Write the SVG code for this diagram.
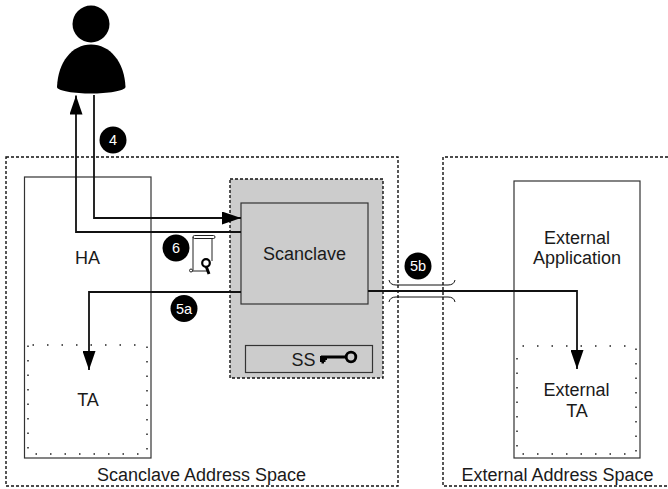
<svg xmlns="http://www.w3.org/2000/svg" width="668" height="489" viewBox="0 0 668 489">
<defs>
<style>
text{font-family:"Liberation Sans",Arial,sans-serif;font-size:18px;fill:#1a1a1a;text-anchor:middle}
.box{fill:none;stroke:#333;stroke-width:1.2}
.space{fill:none;stroke:#111;stroke-width:1.4;stroke-dasharray:3 2}
.dots{fill:none;stroke:#222;stroke-width:1.5;stroke-dasharray:1.5 13}
.wire{fill:none;stroke:#111;stroke-width:1.8}
.brk{fill:none;stroke:#111;stroke-width:1}
.badge circle{fill:#000}
.badge text{fill:#fff;font-size:14.5px}
</style>
<marker id="arr" markerUnits="userSpaceOnUse" markerWidth="19" markerHeight="13" refX="19" refY="6.5" viewBox="0 0 19 13" orient="auto"><path d="M0 0L19 6.5L0 13Z" fill="#000"/></marker>
</defs>
<rect width="668" height="489" fill="#fff"/>
<g id="scanclave-space"><rect class="space" x="6" y="157" width="392" height="329"/><text x="201.500" y="481">Scanclave Address Space</text></g>
<g id="external-space"><path class="space" d="M668 157H443V486H668"/><text x="557.500" y="481">External Address Space</text></g>
<g id="ha"><rect class="box" x="24.500" y="177" width="126.500" height="281"/><text x="87.500" y="264">HA</text></g>
<g id="ta"><rect class="dots" stroke-dashoffset="-4.500" x="28" y="345" width="119" height="109"/><text x="88" y="406">TA</text></g>
<g id="enclave"><rect x="230" y="179" width="153" height="199" fill="#ccc" stroke="#111" stroke-width="1.400" stroke-dasharray="3 2"/></g>
<g id="scanclave"><rect x="241" y="203" width="127" height="101" fill="#ccc" stroke="#333" stroke-width="1.200"/><text x="304.500" y="260">Scanclave</text></g>
<g id="ss"><rect x="245.500" y="345.500" width="127" height="27" fill="#ccc" stroke="#333" stroke-width="1.200"/><text x="303.500" y="366">SS</text>
<path d="M321 357H346" stroke="#000" stroke-width="3"/><path d="M320 356h7v4h-1.500v2h-1.500v1.500h-2.500v-1.500h-1.500Z" fill="#000"/><circle cx="351" cy="357" r="4.800" fill="none" stroke="#000" stroke-width="2.800"/></g>
<g id="ext-app"><rect class="box" x="514" y="181" width="126" height="277"/><text x="577" y="244">External</text><text x="577" y="264">Application</text></g>
<g id="ext-ta"><rect class="dots" stroke-dashoffset="-5.500" x="517" y="346" width="119" height="108"/><text x="576.500" y="396">External</text><text x="577" y="417">TA</text></g>
<g id="user"><circle cx="91" cy="24" r="18.500" fill="#000"/><path d="M57 87C58 62 72 44.500 91 44.500S124.500 62 125.500 87C125 91 107 93.500 91 93.500S57 91 57 87Z" fill="#000"/></g>
<g id="certificate" fill="none" stroke="#222" stroke-width="1"><path d="M193 237V270.500M212 238V261"/><rect x="193" y="235.500" width="22" height="3" rx="1.500"/><circle cx="191" cy="270.500" r="1.500" fill="#fff"/><path d="M192 271H207"/><path d="M206 266L209 274" stroke="#000" stroke-width="3"/><circle cx="206" cy="263" r="3.800" stroke="#000" stroke-width="2.200" fill="#fff"/></g>
<g id="connectors">
<path class="wire" d="M241 232H76V95.500" marker-end="url(#arr)"/>
<path class="wire" d="M94 95V218H241" marker-end="url(#arr)"/>
<path class="wire" d="M241 292H89V370" marker-end="url(#arr)"/>
<path class="wire" d="M368 291H577V369" marker-end="url(#arr)"/>
<path class="brk" d="M389 280Q390 285 396 285H448Q454 285 455 280"/>
<path class="brk" d="M389 302Q390 297 396 297H448Q454 297 455 302"/>
</g>
<g id="badge-4" class="badge"><circle cx="113" cy="140" r="13.500"/><text x="113" y="145">4</text></g>
<g id="badge-6" class="badge"><circle cx="176" cy="248" r="13.500"/><text x="176" y="253">6</text></g>
<g id="badge-5a" class="badge"><circle cx="184" cy="308.500" r="13.500"/><text x="184" y="313.500">5a</text></g>
<g id="badge-5b" class="badge"><circle cx="418" cy="266" r="13.500"/><text x="418" y="271">5b</text></g>
</svg>
